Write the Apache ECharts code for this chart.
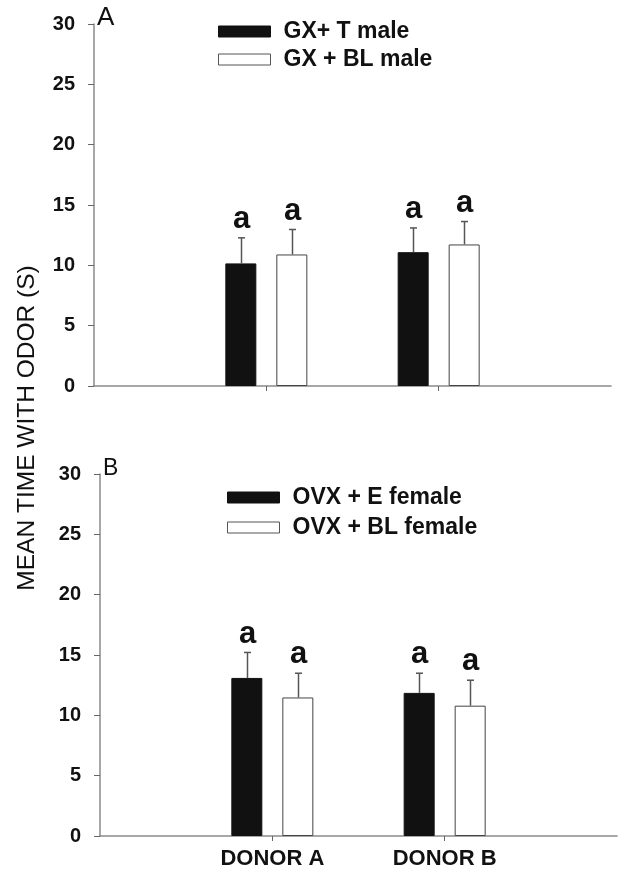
<!DOCTYPE html>
<html>
<head>
<meta charset="utf-8">
<script src="https://cdn.jsdelivr.net/npm/echarts@6/dist/echarts.min.js"></script>
<style>
  html, body { margin: 0; padding: 0; background: #fff; }
  #chart { width: 629px; height: 886px; }
</style>
</head>
<body>
<div id="chart"></div>
<script>
// categories (blank ends keep the donors on the middle ticks)
const categories = ['', 'DONOR A', 'DONOR B', ''];
const yTicks = [0, 5, 10, 15, 20, 25, 30];

// panel A - males
const gxTName = 'GX+ T male';
const gxTMean = [10.16, 11.09];
const gxTSem = [2.12, 2.01];
const gxBlName = 'GX + BL male';
const gxBlMean = [10.90, 11.73];
const gxBlSem = [2.07, 1.90];

// panel B - females
const ovxEName = 'OVX + E female';
const ovxEMean = [13.10, 11.86];
const ovxESem = [2.11, 1.63];
const ovxBlName = 'OVX + BL female';
const ovxBlMean = [11.48, 10.80];
const ovxBlSem = [2.01, 2.11];

const sigLetters = ['a', 'a'];

const FONT = "'Liberation Sans', Arial, sans-serif";
const AXIS_COLOR = '#8a8a8a';
const BAR_W = 31;
const BAR_GAP = 20;
const OFFSET = (BAR_W + BAR_GAP) / 2;

let chart = echarts.init(document.getElementById('chart'));

function padData (arr)
{
  return ['-'].concat(arr).concat(['-']);
}

function xAxisFor (gridIndex, showLabels)
{
  return {
    type: 'category',
    gridIndex: gridIndex,
    data: categories,
    boundaryGap: false,
    axisLine: { lineStyle: { color: AXIS_COLOR, width: 1.5 } },
    axisTick: {
      show: true,
      length: 5,
      interval: (idx) => idx === 1 || idx === 2,
      lineStyle: { color: '#666', width: 1 }
    },
    axisLabel: {
      show: showLabels,
      interval: 0,
      margin: 12,
      color: '#111',
      fontFamily: FONT,
      fontWeight: 'bold',
      fontSize: 22
    }
  };
}

function yAxisFor (gridIndex)
{
  return {
    type: 'value',
    gridIndex: gridIndex,
    min: yTicks[0],
    max: yTicks[yTicks.length - 1],
    interval: yTicks[1] - yTicks[0],
    splitLine: { show: false },
    axisLine: { show: true, lineStyle: { color: AXIS_COLOR, width: 1.5 } },
    axisTick: { show: true, length: 6, lineStyle: { color: '#666' } },
    axisLabel: {
      margin: 19,
      color: '#111',
      fontFamily: FONT,
      fontWeight: 'bold',
      fontSize: 20
    }
  };
}

function barSeries (name, values, gridIndex, filled)
{
  return {
    name: name,
    type: 'bar',
    xAxisIndex: gridIndex,
    yAxisIndex: gridIndex,
    data: padData(values),
    barWidth: BAR_W,
    barGap: (BAR_GAP / BAR_W * 100) + '%',
    itemStyle: filled
      ? { color: '#111', borderColor: '#111', borderWidth: 1 }
      : { color: '#fff', borderColor: '#444', borderWidth: 1 },
    emphasis: { disabled: true },
    z: 2
  };
}

// error bar (upper half only) plus the letter above it
function errorSeries (means, sems, gridIndex, side)
{
  let data = means.map((m, i) => [i + 1, m, m + sems[i], sigLetters[i]]);
  return {
    type: 'custom',
    xAxisIndex: gridIndex,
    yAxisIndex: gridIndex,
    data: data,
    silent: true,
    z: 3,
    renderItem: function (params, api)
    {
      let base = api.coord([api.value(0), api.value(1)]);
      let top = api.coord([api.value(0), api.value(2)]);
      let x = Math.round(base[0] + side * OFFSET) + 0.5;
      let style = { stroke: '#555', lineWidth: 1.5 };
      return {
        type: 'group',
        children: [
          { type: 'line', shape: { x1: x, y1: base[1], x2: x, y2: top[1] }, style: style },
          { type: 'line', shape: { x1: x - 3.5, y1: top[1], x2: x + 3.5, y2: top[1] }, style: style },
          {
            type: 'text',
            style: {
              x: x,
              y: top[1] - 3,
              text: data[params.dataIndex][3],
              fill: '#111',
              font: 'bold 31px ' + FONT,
              align: 'center',
              verticalAlign: 'bottom'
            }
          }
        ]
      };
    }
  };
}

function legendFor (names, left, top, gap)
{
  return {
    data: names.map((n, i) => ({
      name: n,
      itemStyle: i === 0
        ? { color: '#111', borderColor: '#111', borderWidth: 1 }
        : { color: '#fff', borderColor: '#555', borderWidth: 1 }
    })),
    orient: 'vertical',
    left: left,
    top: top,
    icon: 'rect',
    itemWidth: 52,
    itemHeight: 11,
    itemGap: gap,
    selectedMode: false,
    textStyle: {
      color: '#111',
      fontFamily: FONT,
      fontWeight: 'bold',
      fontSize: 23,
      padding: [0, 0, 0, 8]
    }
  };
}

let option = {
  animation: false,
  backgroundColor: '#fff',
  grid: [
    { left: 94, top: 24, right: 18, height: 362 },
    { left: 100, top: 474, right: 12, height: 362 }
  ],
  legend: [
    legendFor([gxTName, gxBlName], 213, 15, 5),
    legendFor([ovxEName, ovxBlName], 222, 481, 7)
  ],
  xAxis: [xAxisFor(0, false), xAxisFor(1, true)],
  yAxis: [yAxisFor(0), yAxisFor(1)],
  graphic: [
    {
      type: 'text',
      left: 97,
      top: 5,
      style: { text: 'A', fill: '#111', font: '26px ' + FONT }
    },
    {
      type: 'text',
      left: 103,
      top: 457,
      style: { text: 'B', fill: '#111', font: '23px ' + FONT }
    },
    {
      type: 'text',
      x: 27,
      y: 428,
      rotation: Math.PI / 2,
      style: {
        text: 'MEAN TIME WITH ODOR (S)',
        fill: '#111',
        font: '24.5px ' + FONT,
        align: 'center',
        verticalAlign: 'middle'
      }
    }
  ],
  series: [
    barSeries(gxTName, gxTMean, 0, true),
    barSeries(gxBlName, gxBlMean, 0, false),
    errorSeries(gxTMean, gxTSem, 0, -1),
    errorSeries(gxBlMean, gxBlSem, 0, 1),
    barSeries(ovxEName, ovxEMean, 1, true),
    barSeries(ovxBlName, ovxBlMean, 1, false),
    errorSeries(ovxEMean, ovxESem, 1, -1),
    errorSeries(ovxBlMean, ovxBlSem, 1, 1)
  ]
};

chart.setOption(option);
</script>
</body>
</html>
